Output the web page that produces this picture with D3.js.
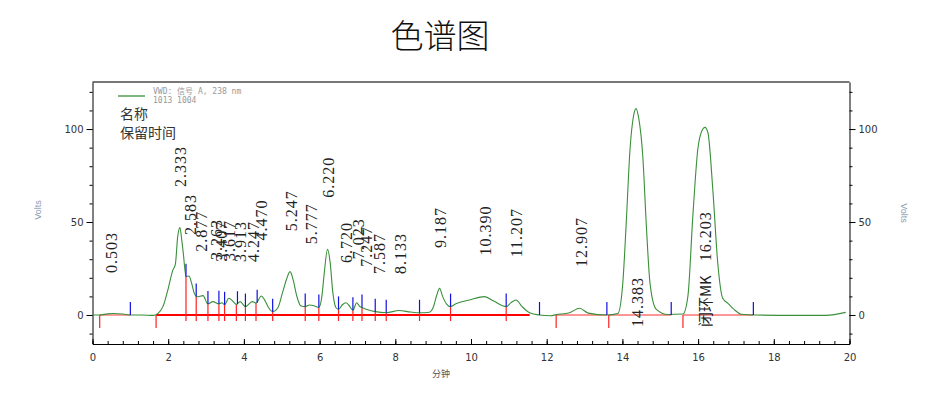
<!DOCTYPE html>
<html>
<head>
<meta charset="utf-8">
<script src="https://cdn.jsdelivr.net/npm/d3@7"></script>
<style>
  body { margin: 0; background: #fff; }
</style>
</head>
<body>
<div id="chart"></div>
<script>
// signal trace [minutes, volts]
const trace = [
  [0, 0], [0.19, 0], [0.4, 0.6], [0.55, 0.8], [0.8, 0.5], [1.0, 0], [1.3, 0], [1.6, -0.2],
  [1.73, 0.9], [1.86, 4.5], [1.99, 13.4], [2.12, 24], [2.19, 27.4], [2.25, 42], [2.31, 47],
  [2.36, 40], [2.4, 33], [2.47, 20.6], [2.55, 21], [2.62, 17], [2.69, 11.6], [2.76, 9.8],
  [2.92, 10.4], [3.05, 5.9], [3.18, 7.2], [3.34, 6.0], [3.42, 6.6], [3.49, 5.5], [3.6, 9],
  [3.72, 7.2], [3.8, 5.7], [3.9, 7.2], [4.04, 4.5], [4.22, 7.2], [4.32, 6.4], [4.46, 10.2],
  [4.55, 8], [4.65, 4], [4.76, 1.8], [4.9, 4], [5.02, 12], [5.12, 18.8], [5.22, 23.3],
  [5.3, 19], [5.4, 10], [5.5, 5], [5.62, 4.5], [5.73, 5.4], [5.85, 5.0], [5.98, 4.0],
  [6.06, 10], [6.12, 22], [6.21, 35.3], [6.28, 28], [6.35, 12], [6.43, 4], [6.5, 3.0],
  [6.6, 5.5], [6.7, 6.6], [6.8, 4.5], [6.88, 2.5], [6.98, 6.6], [7.05, 4.8], [7.12, 4.0],
  [7.25, 3], [7.47, 1.8], [7.76, 1.2], [8.1, 2.4], [8.4, 1.6], [8.64, 1.2], [8.9, 1.5],
  [9.0, 4], [9.1, 11], [9.17, 14.3], [9.25, 10], [9.35, 6], [9.46, 4.5], [9.6, 6],
  [9.96, 8.1], [10.36, 9.9], [10.6, 7.5], [10.93, 4.5], [11.05, 6.5], [11.19, 8.1],
  [11.35, 4.5], [11.55, 1.2], [11.81, 0], [12.1, -0.4], [12.25, 0.2], [12.6, 1.2],
  [12.87, 3.6], [13.1, 1], [13.59, 0], [13.88, 0.8], [14.01, 17], [14.1, 49], [14.2, 88.7],
  [14.29, 106.6], [14.36, 111], [14.43, 106], [14.54, 85], [14.63, 49], [14.73, 17],
  [14.89, 3.2], [15.2, 0.3], [15.6, 0.5], [15.73, 10], [15.86, 52.9], [15.99, 88.7],
  [16.11, 99.5], [16.18, 100.9], [16.26, 98], [16.39, 67], [16.52, 27.8], [16.65, 9],
  [16.79, 6.3], [16.95, 3], [17.14, 0.4], [17.5, 0], [18.5, -0.2], [19.38, -0.2], [19.9, 1.4]
];

// peak labels: retention time text, level (volts) where the text starts, optional name
const peakTimes = ["0.503", "2.333", "2.583", "2.877", "3.263", "3.407", "3.617", "3.913",
  "4.247", "4.470", "5.247", "5.777", "6.220", "6.720", "7.023", "7.247", "7.587", "8.133",
  "9.187", "10.390", "11.207", "12.907", "14.383", "16.203"];
const labelLevels = [22.6, 68.8, 43, 34, 29.6, 28.7, 29, 28.5, 28.5, 40, 45, 38, 63,
  28, 30, 26, 22, 22, 36, 32, 31, 25.8, -6.5, -6.5];
const peakNames = { "16.203": "闭环MK" };

// integration marks
const dropLines = [[2.47, 20.6], [2.74, 10], [3.05, 5.9], [3.34, 6.0], [3.49, 5.5], [3.8, 5.7],
  [4.04, 4.5], [4.32, 6.4], [4.76, 1.8], [5.62, 4.5], [5.98, 4.0], [6.5, 3.0], [6.88, 2.5],
  [7.12, 4.0], [7.47, 1.8], [7.76, 1.2], [8.64, 1.2], [9.46, 4.5], [10.93, 4.5]];
const peakBounds = [[1.0, 0], [2.47, 20.6], [2.74, 10], [3.05, 5.9], [3.34, 6.0], [3.49, 5.5],
  [3.83, 5.8], [4.04, 4.5], [4.35, 6.6], [4.76, 1.8], [5.62, 4.5], [5.98, 4.0], [6.5, 3.0],
  [6.88, 2.5], [7.12, 4.0], [7.47, 1.8], [7.76, 1.2], [8.64, 1.2], [9.46, 4.5], [10.93, 4.5],
  [11.81, 0], [13.59, 0], [15.29, 0], [17.46, 0]];
const baseStarts = [0.19, 1.68, 12.25, 13.64, 15.6];
const baselines = [[0.19, 1.0], [1.68, 11.55], [12.25, 13.59], [13.64, 15.29], [15.6, 17.45]];

const xTicks = [0, 2, 4, 6, 8, 10, 12, 14, 16, 18, 20];
const yTicks = [0, 50, 100];

const width = 936;
const height = 397;

const svg = d3
  .select("#chart")
  .append("svg")
  .attr("width", width)
  .attr("height", height)
  .style("font-family", "'Liberation Sans', sans-serif");

const x = d3.scaleLinear().domain([0, 20]).range([92.5, 849.5]);
const y = d3.scaleLinear().domain([-15.6, 125.3]).range([344, 82]);

// title
svg
  .append("text")
  .attr("x", 440)
  .attr("y", 48)
  .attr("text-anchor", "middle")
  .attr("font-family", "'Noto Sans CJK SC'")
  .attr("font-weight", 300)
  .attr("font-size", 33)
  .attr("fill", "#111")
  .text("色谱图");

// frame top
svg
  .append("line")
  .attr("x1", x(0))
  .attr("x2", x(20))
  .attr("y1", y.range()[1])
  .attr("y2", y.range()[1])
  .attr("stroke", "#777")
  .attr("stroke-width", 2);

// axes
const tickFont = (g) =>
  g
    .attr("font-family", "'DejaVu Sans', sans-serif")
    .attr("font-size", 10)
    .call((g) => g.selectAll("text").attr("fill", "#333"))
    .call((g) => g.select(".domain").attr("stroke", "#000"));

const minorY = d3.range(-10, 121, 10);
const minorX = d3.range(0, 20.01, 0.4);

svg
  .append("g")
  .attr("transform", `translate(${x(0)},0)`)
  .call(d3.axisLeft(y).tickValues(minorY).tickSize(3).tickFormat(""))
  .call((g) => g.select(".domain").remove());
svg
  .append("g")
  .attr("transform", `translate(${x(0)},0)`)
  .call(d3.axisLeft(y).tickValues(yTicks).tickSize(6).tickPadding(3).tickSizeOuter(0))
  .call(tickFont);

svg
  .append("g")
  .attr("transform", `translate(${x(20)},0)`)
  .call(d3.axisRight(y).tickValues(minorY).tickSize(3).tickFormat(""))
  .call((g) => g.select(".domain").remove());
svg
  .append("g")
  .attr("transform", `translate(${x(20)},0)`)
  .call(d3.axisRight(y).tickValues(yTicks).tickSize(6).tickPadding(3).tickSizeOuter(0))
  .call(tickFont);

svg
  .append("g")
  .attr("transform", `translate(0,${y.range()[0]})`)
  .call(d3.axisBottom(x).tickValues(minorX).tickSize(-3).tickFormat(""))
  .call((g) => g.select(".domain").remove());
svg
  .append("g")
  .attr("transform", `translate(0,${y.range()[0]})`)
  .call(d3.axisBottom(x).tickValues(xTicks).tickSize(-5).tickPadding(10).tickSizeOuter(0))
  .call(tickFont);

// axis titles
svg
  .append("text")
  .attr("transform", "translate(41,210) rotate(-90)")
  .attr("text-anchor", "middle")
  .attr("font-size", 9)
  .attr("fill", "#8a9ab0")
  .text("Volts");
svg
  .append("text")
  .attr("transform", "translate(901,213) rotate(90)")
  .attr("text-anchor", "middle")
  .attr("font-size", 9)
  .attr("fill", "#8a9ab0")
  .text("Volts");
svg
  .append("text")
  .attr("x", 441)
  .attr("y", 377)
  .attr("text-anchor", "middle")
  .attr("font-family", "'Noto Sans CJK SC'")
  .attr("font-size", 9)
  .attr("fill", "#555")
  .text("分钟");

const plot = svg.append("g");

// baselines
plot
  .selectAll(".base")
  .data(baselines)
  .join("line")
  .attr("x1", (d) => x(d[0]))
  .attr("x2", (d) => x(d[1]))
  .attr("y1", y(0))
  .attr("y2", y(0))
  .attr("stroke", "#ff0000")
  .attr("stroke-opacity", (d, i) => (i === 1 ? 1 : 0.55))
  .attr("stroke-width", (d, i) => (i === 1 ? 2.2 : 1.4));

// drop lines
plot
  .selectAll(".drop")
  .data(dropLines)
  .join("line")
  .attr("x1", (d) => x(d[0]))
  .attr("x2", (d) => x(d[0]))
  .attr("y1", y(0) + 6)
  .attr("y2", (d) => y(d[1]))
  .attr("stroke", "#ff2020")
  .attr("stroke-width", 1.2);

// baseline start marks
plot
  .selectAll(".start")
  .data(baseStarts)
  .join("line")
  .attr("x1", (d) => x(d))
  .attr("x2", (d) => x(d))
  .attr("y1", y(0))
  .attr("y2", y(0) + 13)
  .attr("stroke", "#ff2020")
  .attr("stroke-width", 1.2);

// curve
const line = d3
  .line()
  .x((d) => x(d[0]))
  .y((d) => y(d[1]))
  .curve(d3.curveMonotoneX);

plot
  .append("path")
  .datum(trace)
  .attr("d", line)
  .attr("fill", "none")
  .attr("stroke", "#3a8f3a")
  .attr("stroke-width", 1.1);

// peak boundary marks
plot
  .selectAll(".bound")
  .data(peakBounds)
  .join("line")
  .attr("x1", (d) => x(d[0]))
  .attr("x2", (d) => x(d[0]))
  .attr("y1", (d) => y(d[1]))
  .attr("y2", (d) => y(d[1]) - 13)
  .attr("stroke", "#1010e0")
  .attr("stroke-width", 1.2);

// peak labels
const labels = plot
  .selectAll(".lbl")
  .data(peakTimes)
  .join("text")
  .attr("transform", (d, i) => `translate(${x(+d)},${y(labelLevels[i])}) rotate(-90)`)
  .attr("dy", "0.35em")
  .attr("font-family", "'Liberation Serif', serif")
  .attr("font-size", 16)
  .attr("letter-spacing", 1)
  .attr("fill", "#222");
labels
  .filter((d) => peakNames[d])
  .append("tspan")
  .attr("font-family", "'Noto Sans CJK SC'")
  .attr("font-size", 15)
  .attr("letter-spacing", 0)
  .text((d) => peakNames[d]);
labels
  .append("tspan")
  .attr("dx", (d) => (peakNames[d] ? 14 : 0))
  .text((d) => d);

// legend
svg
  .append("line")
  .attr("x1", 118)
  .attr("x2", 145)
  .attr("y1", 96)
  .attr("y2", 96)
  .attr("stroke", "#3a8f3a")
  .attr("stroke-width", 1.3);
svg
  .append("text")
  .attr("x", 153)
  .attr("y", 94)
  .attr("font-family", "'DejaVu Sans Mono', 'Noto Sans CJK SC'")
  .attr("font-size", 8)
  .attr("fill", "#999")
  .text("VWD: 信号 A, 238 nm");
svg
  .append("text")
  .attr("x", 153)
  .attr("y", 103)
  .attr("font-family", "'DejaVu Sans Mono'")
  .attr("font-size", 8)
  .attr("fill", "#999")
  .text("1013  1004");
svg
  .append("text")
  .attr("x", 120)
  .attr("y", 119)
  .attr("font-family", "'Noto Sans CJK SC'")
  .attr("font-size", 14)
  .attr("fill", "#333")
  .text("名称");
svg
  .append("text")
  .attr("x", 120)
  .attr("y", 138)
  .attr("font-family", "'Noto Sans CJK SC'")
  .attr("font-size", 14)
  .attr("fill", "#333")
  .text("保留时间");
</script>
</body>
</html>
